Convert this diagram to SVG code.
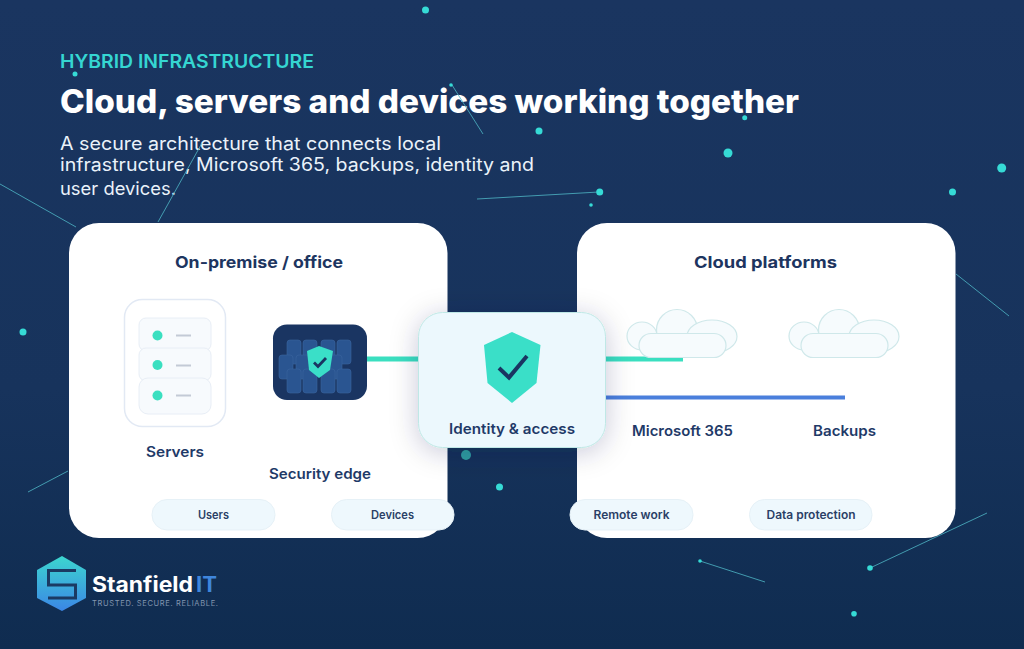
<svg xmlns="http://www.w3.org/2000/svg" xmlns:xlink="http://www.w3.org/1999/xlink" width="1024" height="649" viewBox="0 0 1024 649">
<style>
text{font-family:Inter,"Noto Sans","Liberation Sans",sans-serif}
.hd{font-size:16px;font-weight:700;fill:#1d3560}
.lb{font-size:14.5px;font-weight:600;fill:#1f3a68}
.pt{font-size:11.5px;font-weight:600;fill:#2a3f66}
.pill{fill:#eef8fd;stroke:#e6f1f7;stroke-width:1}
.dot{fill:#36dbd6}
.ln{stroke:#4fb6c6;stroke-width:1;fill:none;opacity:.8}
.row{fill:#f7fafd;stroke:#e8eef6;stroke-width:1}
.led{fill:#3adfc0}
.dash{stroke:#c3cad6;stroke-width:2}
.brick{fill:#2a5591;stroke:#3a659f;stroke-width:.6}
.cl{fill:#f6fbfd;stroke:#cfe8ea;stroke-width:1.2}
</style>
<defs>
<linearGradient id="bg" x1="0" y1="0" x2="0" y2="1"><stop offset="0" stop-color="#1a3560"/><stop offset=".6" stop-color="#17335c"/><stop offset="1" stop-color="#0f2c50"/></linearGradient>
<linearGradient id="hex" x1="0" y1="0" x2="0" y2="1"><stop offset="0" stop-color="#3cd6cf"/><stop offset="1" stop-color="#3b86e6"/></linearGradient>
<filter id="sh" x="-30%" y="-30%" width="160%" height="160%"><feDropShadow dx="0" dy="4" stdDeviation="14" flood-color="#0f2c50" flood-opacity=".22"/></filter>
<g id="cloud">
<ellipse class="cl" cx="642" cy="336" rx="15" ry="14"/>
<ellipse class="cl" cx="677" cy="330" rx="20.5" ry="20.5"/>
<ellipse class="cl" cx="712" cy="336.5" rx="25" ry="16.5"/>
<rect class="cl" x="639" y="333.500" width="87" height="24" rx="12"/>
</g>
</defs>
<rect width="1024" height="649" fill="url(#bg)"/>
<g id="header">
<text x="60" y="68" font-size="18.500" font-weight="600" fill="#35d6d2" textLength="254" lengthAdjust="spacingAndGlyphs">HYBRID INFRASTRUCTURE</text>
<text x="60" y="113" font-size="33" font-weight="800" fill="#fff" textLength="739" lengthAdjust="spacingAndGlyphs">Cloud, servers and devices working together</text>
<text x="60" y="150" font-size="18" fill="#eaf2fa" textLength="381" lengthAdjust="spacingAndGlyphs">A secure architecture that connects local</text>
<text x="60" y="171" font-size="18" fill="#eaf2fa" textLength="474" lengthAdjust="spacingAndGlyphs">infrastructure, Microsoft 365, backups, identity and</text>
<text x="60" y="195" font-size="18" fill="#eaf2fa" textLength="116" lengthAdjust="spacingAndGlyphs">user devices.</text>
</g>
<g id="background">
<path class="ln" d="M0 184L76 227M202 143L158 222M452 85L483 134M477 199L599 192M956 274L1009 316M28 492L68 471M700 561L765 582M870 568L987 513"/>
<circle class="dot" cx="425.500" cy="10" r="3.500"/><circle class="dot" cx="75" cy="74" r="2.500"/><circle class="dot" cx="451" cy="85" r="1.800"/>
<circle class="dot" cx="539" cy="131" r="3.500"/><circle class="dot" cx="744.700" cy="117.700" r="2.500"/><circle class="dot" cx="728" cy="153" r="4.500"/>
<circle class="dot" cx="1001.700" cy="168" r="4.500"/><circle class="dot" cx="952.500" cy="192" r="3.500"/><circle class="dot" cx="599.700" cy="192" r="3.500"/>
<circle class="dot" cx="591" cy="205" r="1.800"/><circle class="dot" cx="23" cy="332" r="3.500"/><circle class="dot" cx="499.500" cy="487" r="3.500"/>
<circle class="dot" cx="870" cy="568" r="2.800"/><circle class="dot" cx="700" cy="561" r="1.800"/><circle class="dot" cx="854" cy="613.700" r="2.800"/>
</g>
<g id="panel-onpremise">
<rect x="69" y="223" width="378.500" height="315" rx="30" fill="#fff"/>
<text class="hd" x="175" y="268" textLength="168" lengthAdjust="spacingAndGlyphs">On-premise / office</text>
</g>
<g id="panel-cloud">
<rect x="577" y="223" width="378.500" height="315" rx="30" fill="#fff"/>
<text class="hd" x="694" y="268" textLength="143" lengthAdjust="spacingAndGlyphs">Cloud platforms</text>
</g>
<circle cx="466" cy="455" r="5" fill="#2f9ea0"/>
<g id="connectors">
<rect x="367" y="356.500" width="52" height="5" fill="#3adfc0"/>
<rect x="605" y="356.500" width="78" height="5" fill="#3adfc0"/>
<rect x="605" y="395.500" width="240" height="4" fill="#4a7fdc"/>
</g>
<g id="node-servers">
<rect x="124.500" y="299.500" width="101" height="127" rx="18" fill="#fff" stroke="#e2e9f4" stroke-width="1.500"/>
<rect class="row" x="139" y="318" width="72" height="33" rx="7"/>
<rect class="row" x="139" y="348" width="72" height="33" rx="7"/>
<rect class="row" x="139" y="378" width="72" height="36" rx="9"/>
<circle class="led" cx="157.500" cy="335.500" r="5"/><circle class="led" cx="157.500" cy="365" r="5"/><circle class="led" cx="157.500" cy="395.500" r="5"/>
<path class="dash" d="M176 335.500H191M176 365.500H191M176 395.500H191"/>
<text class="lb" x="146" y="457" textLength="58" lengthAdjust="spacingAndGlyphs">Servers</text>
</g>
<g id="node-security">
<rect x="273" y="324.500" width="94" height="75.500" rx="14" fill="#1a3562"/>
<rect class="brick" x="287" y="340" width="14" height="24" rx="3"/><rect class="brick" x="303" y="340" width="14" height="24" rx="3"/><rect class="brick" x="321" y="340" width="14" height="24" rx="3"/><rect class="brick" x="337" y="340" width="14" height="24" rx="3"/>
<rect class="brick" x="279" y="355" width="14" height="24" rx="3"/><rect class="brick" x="296" y="355" width="14" height="24" rx="3"/><rect class="brick" x="328" y="355" width="14" height="24" rx="3"/>
<rect class="brick" x="287" y="369" width="14" height="24" rx="3"/><rect class="brick" x="303" y="369" width="14" height="24" rx="3"/><rect class="brick" x="321" y="369" width="14" height="24" rx="3"/><rect class="brick" x="337" y="369" width="14" height="24" rx="3"/>
<path d="M319 346L333 351L330 370L319 378L309 370L307 351Z" fill="#3adfc8"/>
<path d="M314 362.500L318 366.500L326 358" fill="none" stroke="#1a3562" stroke-width="2.800"/>
<text class="lb" x="269" y="479" textLength="102" lengthAdjust="spacingAndGlyphs">Security edge</text>
</g>
<g id="node-identity">
<rect x="418.500" y="312.500" width="187" height="135" rx="24" fill="#ecf8fd" stroke="#bfe8e6" filter="url(#sh)"/>
<path d="M512 332L540.500 345L536.500 383L512 403L487.500 383L484 345Z" fill="#3adfc8"/>
<path d="M499 368L509 377.500L527 356" fill="none" stroke="#1a3562" stroke-width="4"/>
<text class="lb" x="449" y="434" textLength="126" lengthAdjust="spacingAndGlyphs">Identity &amp; access</text>
</g>
<g id="node-m365">
<use xlink:href="#cloud" href="#cloud"/>
<text class="lb" x="632" y="436" textLength="101" lengthAdjust="spacingAndGlyphs">Microsoft 365</text>
</g>
<g id="node-backups">
<use xlink:href="#cloud" href="#cloud" x="162"/>
<text class="lb" x="813" y="436" textLength="63" lengthAdjust="spacingAndGlyphs">Backups</text>
</g>
<g id="pill-users"><rect class="pill" x="152" y="499.500" width="123" height="30.500" rx="15"/><text class="pt" x="198" y="518.500" textLength="31" lengthAdjust="spacingAndGlyphs">Users</text></g>
<g id="pill-devices"><rect class="pill" x="331.500" y="499.500" width="122.500" height="30.500" rx="15"/><text class="pt" x="371" y="518.500" textLength="43" lengthAdjust="spacingAndGlyphs">Devices</text></g>
<g id="pill-remote"><rect class="pill" x="570" y="499.500" width="123" height="30.500" rx="15"/><text class="pt" x="593.500" y="518.500" textLength="76" lengthAdjust="spacingAndGlyphs">Remote work</text></g>
<g id="pill-data"><rect class="pill" x="749.500" y="499.500" width="122.500" height="30.500" rx="15"/><text class="pt" x="766.500" y="518.500" textLength="89" lengthAdjust="spacingAndGlyphs">Data protection</text></g>
<g id="logo">
<path d="M62 556L86 570V598L62 611L37 598V570Z" fill="url(#hex)"/>
<path d="M76 570.500H48.500V585H75.500V598H48" fill="none" stroke="#1b3a63" stroke-width="3"/>
<text x="92" y="592" font-size="21" font-weight="700" fill="#fff" textLength="101" lengthAdjust="spacingAndGlyphs">Stanfield</text>
<text x="196" y="592" font-size="21" font-weight="700" fill="#3f86dc" textLength="21" lengthAdjust="spacingAndGlyphs">IT</text>
<text x="92" y="606" font-size="7.500" fill="#8296b0" textLength="126" lengthAdjust="spacing">TRUSTED. SECURE. RELIABLE.</text>
</g>
</svg>
